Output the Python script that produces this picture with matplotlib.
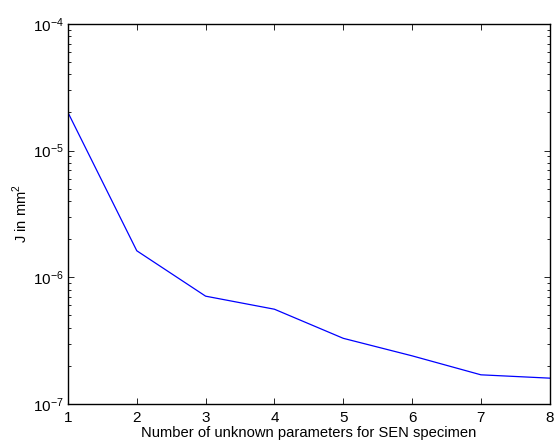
import matplotlib
matplotlib.use("Agg")
import matplotlib.pyplot as plt
from matplotlib.ticker import LogLocator, FixedLocator, LogFormatterMathtext

plt.rcParams["font.family"] = ["Liberation Sans", "DejaVu Sans"]
plt.rcParams["mathtext.fontset"] = "custom"
plt.rcParams["mathtext.rm"] = "Liberation Sans"

# values
n_params = [1, 2, 3, 4, 5, 6, 7, 8]
J_values = [2.0e-5, 1.62e-6, 7.1e-7, 5.6e-7, 3.3e-7, 2.4e-7, 1.7e-7, 1.6e-7]

fig = plt.figure(figsize=(5.57, 4.43), dpi=100)
ax = fig.add_axes([0.122, 0.088, 0.865, 0.858])

ax.plot(n_params, J_values, color="blue", linewidth=0.9)
ax.set_yscale("log")
ax.set_xlim(1, 8)
ax.set_ylim(1e-7, 1e-4)

ax.xaxis.set_major_locator(FixedLocator(n_params))
ax.yaxis.set_major_locator(LogLocator(base=10, numticks=10))
ax.yaxis.set_minor_locator(LogLocator(base=10, subs=range(2, 10), numticks=20))
ax.yaxis.set_major_formatter(LogFormatterMathtext())

ax.tick_params(which="both", direction="in", top=True, right=True, labelsize=11)
ax.tick_params(which="major", length=4.5, width=0.6, pad=3)
ax.tick_params(axis="x", which="major", pad=5)
ax.tick_params(which="minor", length=2.5, width=0.6)
for s in ax.spines.values():
    s.set_linewidth(1.0)

ax.set_xlabel("Number of unknown parameters for SEN specimen", fontsize=10.6, labelpad=1)
ax.set_ylabel("J in mm$^2$", fontsize=10.6, labelpad=2)

fig.savefig("out.png", dpi=100)
